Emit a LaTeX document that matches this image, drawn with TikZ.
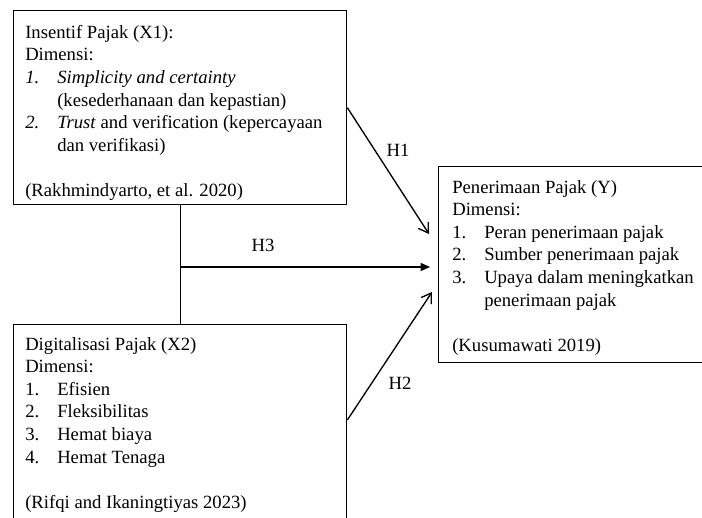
\documentclass[tikz,border=0pt]{standalone}
\usepackage{fontspec}
\setmainfont{Liberation Serif}
\usetikzlibrary{arrows.meta,calc}
\newcommand{\itm}[1]{\makebox[24pt][l]{#1}}
\begin{document}
\begin{tikzpicture}[x=0.75pt,y=-0.75pt,
  box/.style={draw,line width=1pt,rectangle,inner sep=0pt,anchor=north west},
  txt/.style={anchor=north west,inner sep=0pt,align=left,font=\fontsize{14}{16.93}\selectfont},
  lbl/.style={inner sep=0pt,font=\fontsize{14}{16}\selectfont},
  conn/.style={line width=1pt},
  barb/.style={conn,-{Straight Barb[length=7pt,width=9pt,line width=1pt]}},
  tri/.style={conn,-{Triangle[length=7pt,width=6pt]}}]
\useasboundingbox (0,0) rectangle (702,517);
\clip (0,0) rectangle (702,517);
% boxes
\node[box,minimum width=249.75pt,minimum height=145.5pt] (X1) at (13,10) {};
\node[box,minimum width=249.75pt,minimum height=172pt] (X2) at (13,324) {};
\node[box,minimum width=300pt,minimum height=147pt] (Y) at (438,166) {};
% texts
\node[txt] (tX1) at (25,25) {Insentif Pajak (X1):\\
Dimensi:\\
\itm{\itshape 1.}\textit{Simplicity and certainty}\\
\itm{}(kesederhanaan dan kepastian)\\
\itm{\itshape 2.}\textit{Trust} and verification (kepercayaan\\
\itm{}dan verifikasi)\\
\\
(Rakhmindyarto, et al. 2020)};
\node[txt] (tX2) at (25,337) {Digitalisasi Pajak (X2)\\
Dimensi:\\
\itm{1.}Efisien\\
\itm{2.}Fleksibilitas\\
\itm{3.}Hemat biaya\\
\itm{4.}Hemat Tenaga\\
\\
(Rifqi and Ikaningtiyas 2023)};
\node[txt] (tY) at (452,180) {Penerimaan Pajak (Y)\\
Dimensi:\\
\itm{1.}Peran penerimaan pajak\\
\itm{2.}Sumber penerimaan pajak\\
\itm{3.}Upaya dalam meningkatkan\\
\itm{}penerimaan pajak\\
\\
(Kusumawati 2019)};
% connector points
\coordinate (h1end) at (429,234);
\coordinate (h3start) at (X1.south |- 0,267);
\coordinate (h3end) at (430,267);
\coordinate (h2start) at ($(X2.north east)+(0,96)$);
\coordinate (h2end) at (432,292);
% connectors
\draw[barb] (X1.east) -- (h1end);
\draw[conn] (X1.south) -- (X2.north);
\draw[tri] (h3start) -- (h3end);
\draw[barb] (h2start) -- (h2end);
% labels
\node[lbl] (H1) at (398,150) {H1};
\node[lbl] (H3) at (263,245) {H3};
\node[lbl] (H2) at (400,383) {H2};
\end{tikzpicture}
\end{document}
